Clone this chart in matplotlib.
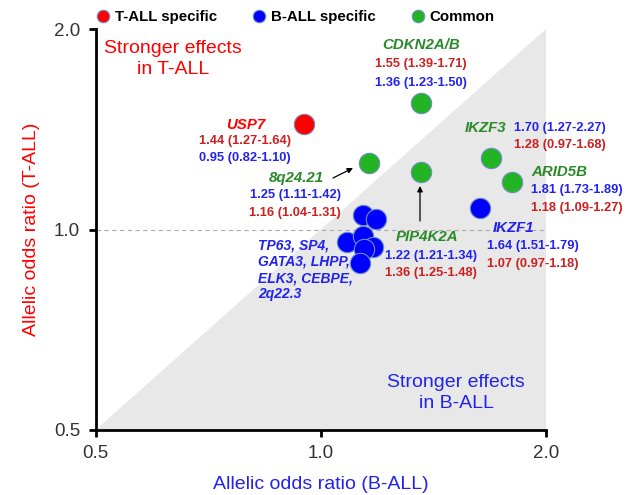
import matplotlib
matplotlib.use("Agg")
import matplotlib.pyplot as plt
from matplotlib.lines import Line2D
from matplotlib.ticker import FixedLocator, NullLocator, FixedFormatter

plt.rcParams['font.family'] = ['Liberation Sans', 'DejaVu Sans']

# ---- data (plotted coordinates: x = B-ALL OR, y = T-ALL OR) ----
t_specific_genes = ["USP7"]
t_specific_x = [0.95]
t_specific_y = [1.44]

common_genes = ["CDKN2A/B", "8q24.21", "PIP4K2A", "IKZF3", "ARID5B"]
common_x = [1.36, 1.16, 1.36, 1.69, 1.80]
common_y = [1.55, 1.26, 1.22, 1.28, 1.18]

b_specific_genes = ["IKZF1", "TP63", "SP4", "GATA3", "LHPP", "ELK3", "CEBPE", "2q22.3"]
b_specific_x = [1.63, 1.14, 1.185, 1.085, 1.14, 1.175, 1.142, 1.128]
b_specific_y = [1.077, 1.051, 1.037, 0.958, 0.978, 0.941, 0.935, 0.891]

tick_values = [0.5, 1.0, 2.0]
tick_labels = ["0.5", "1.0", "2.0"]

RED = "#ff0000"
BLUE = "#0000ff"
GREEN = "#22b422"
TXT_RED = "#cc2020"
TXT_BLUE = "#2222ee"
TXT_GREEN = "#2a8a2a"
EDGE = "#7090c0"

fig = plt.figure(figsize=(6.32, 4.95), dpi=100)
ax = fig.add_axes([95.5 / 632, 65 / 495, 450.5 / 632, 401 / 495])
ax.set_xscale('log')
ax.set_yscale('log')
ax.set_xlim(tick_values[0], tick_values[-1])
ax.set_ylim(tick_values[0], tick_values[-1])

# shaded lower triangle (B-ALL stronger)
ax.fill([tick_values[0], tick_values[-1], tick_values[-1]],
        [tick_values[0], tick_values[-1], tick_values[0]],
        color="#e8e8e8", zorder=0, lw=0)
ax.axhline(1.0, color="#aaaaaa", ls=(0, (4, 3)), lw=0.8, zorder=1)

ms = 215
ax.scatter(b_specific_x, b_specific_y, s=ms, color=BLUE, edgecolor=EDGE, lw=0.8, zorder=3)
ax.scatter(common_x, common_y, s=ms, color=GREEN, edgecolor=EDGE, lw=0.8, zorder=3)
ax.scatter(t_specific_x, t_specific_y, s=ms, color=RED, edgecolor=EDGE, lw=0.8, zorder=3)

for side in ['top', 'right']:
    ax.spines[side].set_visible(False)
for side in ['left', 'bottom']:
    ax.spines[side].set_linewidth(2)
ax.xaxis.set_major_locator(FixedLocator(tick_values))
ax.yaxis.set_major_locator(FixedLocator(tick_values))
ax.xaxis.set_major_formatter(FixedFormatter(tick_labels))
ax.yaxis.set_major_formatter(FixedFormatter(tick_labels))
ax.xaxis.set_minor_locator(NullLocator())
ax.yaxis.set_minor_locator(NullLocator())
ax.tick_params(axis='both', length=5, width=2, labelsize=13.5, labelcolor="#333333", pad=6)

ax.set_xlabel("Allelic odds ratio (B-ALL)", color=TXT_BLUE, fontsize=14, labelpad=10)
ax.set_ylabel("Allelic odds ratio (T-ALL)", color=RED, fontsize=14, labelpad=10)


def P(px, py):
    return ((px - 95.5) / 450.5, (430 - py) / 401)


def T(px, py, s, color, size=9.3, style='normal', ha='center'):
    ax.text(*P(px, py), s, transform=ax.transAxes, color=color, fontsize=size,
            fontweight='bold', fontstyle=style, ha=ha, va='center', zorder=4)


# region labels
ax.text(*P(173, 59), "Stronger effects\nin T-ALL", transform=ax.transAxes, color=RED,
        fontsize=14, ha='center', va='center', linespacing=1.25)
ax.text(*P(456, 393), "Stronger effects\nin B-ALL", transform=ax.transAxes, color=TXT_BLUE,
        fontsize=14, ha='center', va='center', linespacing=1.25)

# gene annotations
T(421, 45, "CDKN2A/B", TXT_GREEN, 10.8, 'italic')
T(421, 64, "1.55 (1.39-1.71)", TXT_RED)
T(421, 83, "1.36 (1.23-1.50)", TXT_BLUE)

T(246, 125, "USP7", RED, 10.8, 'italic')
T(245, 141, "1.44 (1.27-1.64)", TXT_RED)
T(245, 158, "0.95 (0.82-1.10)", TXT_BLUE)

T(486, 128, "IKZF3", TXT_GREEN, 10.8, 'italic')
T(560, 128, "1.70 (1.27-2.27)", TXT_BLUE)
T(560, 145, "1.28 (0.97-1.68)", TXT_RED)

T(559, 172, "ARID5B", TXT_GREEN, 10.8, 'italic')
T(577, 190, "1.81 (1.73-1.89)", TXT_BLUE)
T(577, 208, "1.18 (1.09-1.27)", TXT_RED)

T(514, 228, "IKZF1", TXT_BLUE, 10.8, 'italic')
T(533, 246, "1.64 (1.51-1.79)", TXT_BLUE)
T(533, 264, "1.07 (0.97-1.18)", TXT_RED)

T(296, 178, "8q24.21", TXT_GREEN, 10.8, 'italic')
T(295, 195, "1.25 (1.11-1.42)", TXT_BLUE)
T(295, 213, "1.16 (1.04-1.31)", TXT_RED)

T(427, 237, "PIP4K2A", TXT_GREEN, 10.8, 'italic')
T(431, 256, "1.22 (1.21-1.34)", TXT_BLUE)
T(431, 273, "1.36 (1.25-1.48)", TXT_RED)

ax.text(*P(258, 270), "TP63, SP4,\nGATA3, LHPP,\nELK3, CEBPE,\n2q22.3", transform=ax.transAxes,
        color=TXT_BLUE, fontsize=10, fontweight='bold', fontstyle='italic',
        ha='left', va='center', linespacing=1.2)

arrow = dict(arrowstyle='-|>', color='black', lw=0.9, mutation_scale=8, shrinkA=0, shrinkB=0)
ax.annotate("", xy=P(353, 168), xytext=P(333, 178), xycoords='axes fraction',
            textcoords='axes fraction', arrowprops=arrow)
ax.annotate("", xy=P(420, 186), xytext=P(420, 221), xycoords='axes fraction',
            textcoords='axes fraction', arrowprops=arrow)

# legend
handles = [Line2D([], [], marker='o', ls='', markersize=9, markerfacecolor=c,
                  markeredgecolor=EDGE, markeredgewidth=0.8)
           for c in (RED, BLUE, GREEN)]
leg = fig.legend(handles, ["T-ALL specific", "B-ALL specific", "Common"],
                 loc='center left', bbox_to_anchor=(94 / 632, 1 - 17 / 495), ncol=3,
                 frameon=False, prop={'weight': 'bold', 'size': 10.8},
                 handletextpad=0.2, columnspacing=2.2, handlelength=1.2, borderpad=0,
                 borderaxespad=0)

fig.savefig("out.png", dpi=100)
